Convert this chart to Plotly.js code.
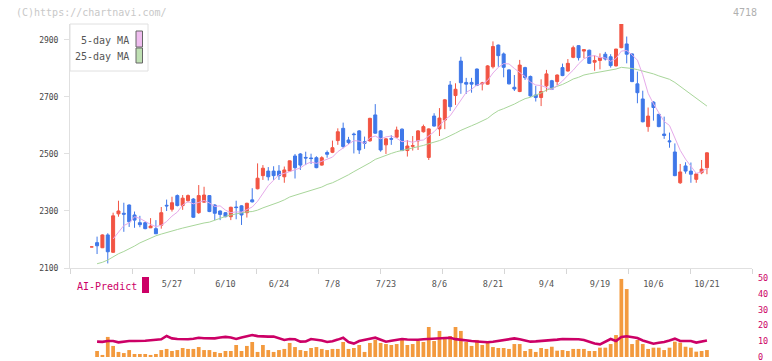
<!DOCTYPE html>
<html><head><meta charset="utf-8">
<script src="https://cdn.plot.ly/plotly-3.0.1.min.js"></script>
<style>html,body{margin:0;padding:0;background:#fff}#c{width:772px;height:361px}</style>
</head><body><div id="c"></div>
<script>
const dates = ["5/2","5/7","5/8","5/9","5/12","5/13","5/14","5/15","5/16","5/19","5/20","5/21","5/22","5/23","5/26","5/27","5/28","5/29","5/30",
"6/2","6/3","6/4","6/5","6/6","6/9","6/10","6/11","6/12","6/13","6/16","6/17","6/18","6/19","6/20","6/23","6/24","6/25","6/26","6/27","6/30",
"7/1","7/2","7/3","7/4","7/7","7/8","7/9","7/10","7/11","7/14","7/15","7/16","7/17","7/18","7/22","7/23","7/24","7/25","7/28","7/29","7/30","7/31",
"8/1","8/4","8/5","8/6","8/7","8/8","8/12","8/13","8/14","8/15","8/18","8/19","8/20","8/21","8/22","8/25","8/26","8/27","8/28","8/29",
"9/1","9/2","9/3","9/4","9/5","9/8","9/9","9/10","9/11","9/12","9/16","9/17","9/18","9/19","9/22","9/24","9/25","9/26","9/29","9/30",
"10/1","10/2","10/3","10/6","10/7","10/8","10/9","10/10","10/14","10/15","10/16","10/17","10/20","10/21"];

const open  = [2174,2189,2171,2216,2155,2290,2292,2321,2286,2259,2259,2241,2238,2250,2320,2306,2354,2319,2336,2342,2294,2331,2354,2321,2300,2294,2280,2314,2318,2294,2339,2378,2424,2440,2440,2440,2420,2440,2493,2500,2488,2486,2487,2461,2505,2506,2547,2590,2549,2570,2581,2543,2546,2637,2581,2532,2554,2559,2587,2512,2527,2546,2578,2488,2633,2588,2619,2742,2705,2826,2751,2751,2798,2746,2745,2806,2882,2851,2795,2734,2719,2803,2772,2707,2698,2739,2757,2754,2803,2791,2839,2880,2861,2864,2822,2828,2850,2841,2809,2873,2886,2851,2746,2693,2596,2682,2639,2570,2546,2507,2399,2458,2440,2411,2434,2452];
const high  = [2174,2210,2218,2222,2294,2336,2329,2323,2298,2283,2262,2275,2268,2314,2340,2350,2358,2356,2358,2345,2391,2385,2356,2324,2302,2296,2315,2336,2320,2329,2380,2467,2461,2454,2457,2461,2456,2477,2500,2503,2508,2501,2492,2492,2512,2547,2590,2610,2560,2575,2584,2561,2627,2675,2584,2556,2566,2596,2590,2549,2563,2584,2603,2590,2643,2661,2693,2756,2748,2841,2767,2767,2800,2753,2812,2895,2884,2856,2797,2777,2830,2806,2775,2739,2762,2795,2760,2779,2817,2833,2880,2882,2867,2866,2846,2853,2858,2850,2869,2956,2912,2853,2789,2722,2663,2685,2641,2631,2575,2537,2465,2471,2470,2432,2479,2506];
const low   = [2174,2149,2170,2116,2153,2280,2227,2244,2241,2243,2236,2240,2220,2238,2300,2298,2316,2304,2330,2276,2290,2329,2296,2268,2268,2278,2268,2271,2251,2277,2330,2376,2409,2407,2409,2409,2399,2438,2414,2444,2461,2465,2450,2459,2487,2503,2532,2520,2535,2502,2500,2518,2543,2571,2508,2500,2532,2557,2510,2491,2512,2514,2575,2479,2596,2563,2587,2651,2672,2711,2711,2715,2738,2723,2743,2800,2806,2769,2744,2721,2717,2760,2700,2684,2668,2719,2725,2742,2773,2789,2836,2828,2836,2816,2792,2797,2828,2803,2807,2871,2818,2752,2678,2611,2578,2617,2594,2553,2522,2422,2395,2431,2399,2399,2429,2429];
const close = [2174,2178,2216,2157,2283,2300,2289,2262,2268,2252,2238,2247,2220,2294,2318,2329,2319,2345,2354,2278,2354,2356,2298,2292,2288,2280,2313,2312,2286,2327,2332,2415,2450,2420,2424,2424,2444,2476,2452,2461,2486,2484,2452,2487,2499,2522,2578,2526,2540,2568,2514,2537,2625,2573,2514,2553,2552,2584,2512,2528,2529,2581,2596,2588,2598,2626,2690,2666,2727,2750,2745,2745,2741,2749,2809,2877,2845,2804,2746,2728,2812,2768,2704,2698,2719,2781,2727,2777,2775,2818,2873,2838,2866,2818,2828,2838,2833,2810,2868,2956,2850,2754,2715,2613,2633,2663,2596,2565,2543,2424,2437,2440,2429,2430,2447,2504];

const ma5 = [null,null,null,null,2202,2227,2249,2258,2280,2274,2262,2253,2245,2250,2263,2282,2296,2321,2333,2325,2330,2337,2328,2316,2318,2303,2294,2297,2296,2304,2314,2334,2362,2389,2408,2427,2432,2438,2444,2451,2464,2472,2467,2474,2482,2489,2508,2522,2533,2547,2545,2537,2557,2563,2553,2560,2563,2555,2543,2546,2541,2547,2549,2564,2578,2598,2620,2634,2661,2692,2716,2727,2742,2746,2758,2784,2804,2817,2816,2800,2787,2772,2752,2742,2740,2734,2726,2740,2756,2776,2794,2816,2834,2843,2845,2838,2837,2825,2835,2861,2863,2848,2829,2778,2713,2676,2644,2614,2600,2558,2513,2482,2455,2432,2437,2450];
const ma25 = [null,2115,2120,2128,2140,2150,2158,2167,2177,2188,2197,2205,2213,2219,2225,2230,2235,2240,2245,2250,2254,2258,2261,2268,2276,2281,2286,2290,2295,2297,2298,2303,2311,2317,2324,2331,2339,2349,2355,2361,2367,2374,2378,2384,2393,2399,2408,2417,2427,2438,2448,2457,2469,2481,2488,2497,2502,2508,2512,2516,2520,2525,2530,2536,2541,2547,2555,2563,2573,2583,2592,2599,2607,2616,2625,2640,2652,2659,2666,2675,2685,2694,2699,2706,2714,2724,2730,2737,2744,2753,2763,2769,2777,2781,2784,2787,2791,2794,2798,2804,2803,2800,2796,2791,2787,2781,2774,2769,2762,2751,2737,2725,2711,2698,2683,2668];

const volume = [null,3.8,1.3,12.7,7.0,3.2,2.5,4.4,1.9,1.9,1.9,1.3,1.9,4.4,5.1,3.8,4.4,5.7,5.1,5.1,6.3,4.4,4.4,3.2,2.5,3.8,3.8,7.6,3.8,7.0,9.5,3.2,7.6,4.4,3.2,4.4,5.1,8.9,6.3,4.4,
3.8,5.7,6.3,5.1,4.4,5.1,5.1,9.5,5.1,5.7,7.6,3.2,8.9,10.8,8.9,8.2,7.6,8.2,12.0,7.6,8.2,10.1,9.5,19.0,10.1,16.5,12.7,13.3,19.0,16.5,9.5,7.0,10.8,7.6,8.9,6.3,5.7,5.7,5.1,8.2,8.2,3.8,5.1,3.2,5.7,5.1,
6.5,4.0,4.4,3.8,5.1,5.1,5.1,3.8,3.8,5.9,5.9,8.2,13.9,49.4,43.0,8.2,10.8,8.2,5.1,5.9,5.9,4.4,5.9,9.7,9.1,6.5,5.9,3.4,3.8,4.4];
const aiPredict = [null,9.7,9.6,10.1,10.1,9.3,9.8,10.1,10.1,10.1,10.3,10.6,10.9,11.2,13.3,11.8,11.4,11.3,11.2,11.6,12.2,11.9,11.8,11.8,12.3,12.7,12.3,11.4,12.3,13.3,13.9,13.2,12.9,12.9,12.9,11.6,10.8,11.4,11.2,9.7,
9.8,11.4,11.0,10.5,9.5,10.0,11.0,12.2,9.5,8.5,10.1,10.6,11.5,12.2,10.8,9.7,10.3,10.9,11.4,11.1,10.8,10.9,11.2,11.4,11.6,11.8,12.0,12.2,11.3,10.8,10.4,10.1,9.8,9.5,9.3,9.6,10.1,10.7,11.3,11.8,11.2,10.5,9.7,9.9,10.1,10.3,
10.5,11.0,11.4,11.4,11.4,11.2,10.8,9.7,8.5,8.0,9.5,11.4,10.1,12.7,13.1,12.5,12.0,10.5,9.5,8.4,9.0,9.5,10.5,11.6,10.1,10.1,10.1,9.1,10.0,10.5];

const xLabels = ["5/27","6/10","6/24","7/8","7/23","8/6","8/21","9/4","9/19","10/6","10/21"];
const priceTicks = [2100,2300,2500,2700,2900];
const volTicks = [0,10,20,30,40,50];

const W=772,H=361,L=70,R=752,T=24,B=357;
const px=x=>(x-L)/(R-L), py=y=>(B-y)/(B-T);
const mono="DejaVu Sans Mono";
const xr=[-4.06,123.42];

const traces=[
 {type:'bar',x:dates,y:volume,xaxis:'x',yaxis:'y2',width:0.7,marker:{color:'#f39a3e',line:{width:0}},hoverinfo:'skip'},
 {type:'scatter',mode:'lines',x:dates,y:aiPredict,xaxis:'x',yaxis:'y2',line:{color:'#cc0066',width:2.6},hoverinfo:'skip'},
 {type:'scatter',mode:'lines',x:dates,y:ma25,xaxis:'x',yaxis:'y',line:{color:'#a8d69a',width:1},hoverinfo:'skip'},
 {type:'scatter',mode:'lines',x:dates,y:ma5,xaxis:'x',yaxis:'y',line:{color:'#e6aaea',width:1},hoverinfo:'skip'},
 {type:'candlestick',x:dates,open:open,high:high,low:low,close:close,xaxis:'x',yaxis:'y',whiskerwidth:0,
  increasing:{line:{color:'#f25443',width:1},fillcolor:'#f25443'},
  decreasing:{line:{color:'#3f78e9',width:1},fillcolor:'#3f78e9'},hoverinfo:'skip'},
 {type:'scatter',mode:'markers',x:[],y:[],xaxis:'x2',yaxis:'y',hoverinfo:'skip'}
];

const layout={
 width:W,height:H,margin:{l:L,r:W-R,t:T,b:H-B},paper_bgcolor:'#fff',plot_bgcolor:'rgba(0,0,0,0)',
 showlegend:false,hovermode:false,boxgap:0.2,bargap:0.3,
 font:{family:mono,size:9,color:'#555'},
 xaxis:{type:'category',range:xr,anchor:'y',showline:true,linecolor:'#e0e0e0',linewidth:1,ticks:'',
  tickmode:'array',tickvals:xLabels,ticktext:xLabels,tickfont:{family:mono,size:8.5,color:'#555'},
  ticklabelstandoff:8,showgrid:false,zeroline:false,rangeslider:{visible:false},fixedrange:true},
 xaxis2:{overlaying:'x',type:'linear',range:xr,anchor:'y',side:'bottom',showline:false,
  ticks:'outside',ticklen:5,tickcolor:'#d6d6d6',tickwidth:1,tickmode:'linear',tick0:xr[0],dtick:(xr[1]-xr[0])/11,
  showticklabels:false,showgrid:false,zeroline:false},
 yaxis:{domain:[py(268),1],range:[2100,2956],showline:true,linecolor:'#e0e0e0',linewidth:1,ticks:'outside',ticklen:5,
  tickcolor:'#e0e0e0',tickmode:'array',tickvals:priceTicks,tickfont:{family:mono,size:8,color:'#444'},
  ticklabelstandoff:4,showgrid:false,zeroline:false},
 yaxis2:{domain:[0,py(278)],range:[0,50],anchor:'x',side:'right',showline:false,ticks:'',tickmode:'array',
  tickvals:volTicks,tickfont:{family:mono,size:8.5,color:'#cc0066'},ticklabelstandoff:5,ticklabeloverflow:'allow',
  showgrid:false,zeroline:false},
 shapes:[
  {type:'rect',xref:'paper',yref:'paper',x0:0,x1:px(148),y0:py(71),y1:1,fillcolor:'#fff',line:{color:'#e0e0e0',width:1},layer:'above'},
  {type:'rect',xref:'paper',yref:'paper',x0:px(136),x1:px(142.5),y0:py(47),y1:py(31),fillcolor:'#efbdef',line:{color:'#666',width:1},layer:'above'},
  {type:'rect',xref:'paper',yref:'paper',x0:px(136),x1:px(142.5),y0:py(63),y1:py(48),fillcolor:'#bfe0b3',line:{color:'#666',width:1},layer:'above'},
  {type:'rect',xref:'paper',yref:'paper',x0:px(142),x1:px(149),y0:py(293),y1:py(277),fillcolor:'#cc0066',line:{width:0},layer:'above'}
 ],
 annotations:[
  {xref:'paper',yref:'paper',x:px(14),y:py(12.5),xanchor:'left',yanchor:'middle',showarrow:false,text:'(C)https://chartnavi.com/',font:{family:mono,size:10,color:'#c8c8c8'}},
  {xref:'paper',yref:'paper',x:px(759),y:py(12.5),xanchor:'right',yanchor:'middle',showarrow:false,text:'4718',font:{family:mono,size:10,color:'#b0b0b0'}},
  {xref:'paper',yref:'paper',x:px(131),y:py(40),xanchor:'right',yanchor:'middle',showarrow:false,text:'5-day MA',font:{family:mono,size:10,color:'#555'}},
  {xref:'paper',yref:'paper',x:px(131),y:py(56),xanchor:'right',yanchor:'middle',showarrow:false,text:'25-day MA',font:{family:mono,size:10,color:'#555'}},
  {xref:'paper',yref:'paper',x:px(75),y:py(286),xanchor:'left',yanchor:'middle',showarrow:false,text:'AI-Predict',font:{family:mono,size:10,color:'#cc0066'}}
 ]
};
Plotly.newPlot('c',traces,layout,{displayModeBar:false,staticPlot:true});
</script></body></html>
